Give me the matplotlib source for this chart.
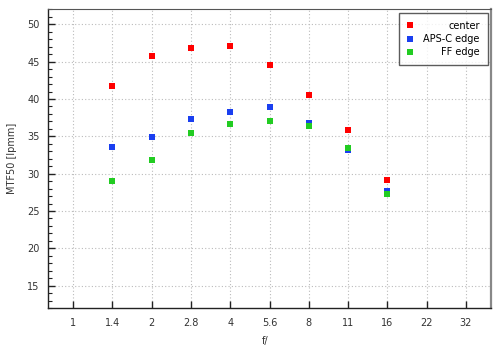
import matplotlib

matplotlib.use("Agg")
import matplotlib.pyplot as plt
from matplotlib.ticker import MultipleLocator

# f-stops shown on the axis (evenly spaced, one per stop)
STOPS = ["1", "1.4", "2", "2.8", "4", "5.6", "8", "11", "16", "22", "32"]
MEASURED = ["1.4", "2", "2.8", "4", "5.6", "8", "11", "16"]

center = [41.7, 45.8, 46.8, 47.1, 44.5, 40.6, 35.8, 29.2]
apsc_edge = [33.6, 34.9, 37.3, 38.2, 38.9, 36.8, 33.2, 27.7]
ff_edge = [29.0, 31.8, 35.4, 36.7, 37.1, 36.4, 33.4, 27.3]

xpos = [STOPS.index(s) for s in MEASURED]

fig = plt.figure(figsize=(5.0, 3.51), dpi=100)
ax = fig.add_axes([0.096, 0.1225, 0.886, 0.8505])

ms = 5.0
ax.plot(xpos, center, "s", color="#ff0000", ms=ms, mew=0, label="center")
ax.plot(xpos, apsc_edge, "s", color="#1a3ff0", ms=ms, mew=0, label="APS-C edge")
ax.plot(xpos, ff_edge, "s", color="#22cc22", ms=ms, mew=0, label="FF edge")

ax.set_xlim(-0.64, 10.64)
ax.set_ylim(12, 52)
ax.set_xticks(range(len(STOPS)))
ax.set_xticklabels(STOPS)
ax.yaxis.set_major_locator(MultipleLocator(5))
ax.yaxis.set_minor_locator(MultipleLocator(1))
ax.set_yticks(range(15, 51, 5))

ax.grid(True, which="major", color="#bbbbbb", linestyle=(0, (1, 2)), linewidth=0.8)
ax.tick_params(axis="both", which="major", direction="in", length=5, width=1,
               labelsize=7, labelcolor="#333333", color="#222222")
ax.tick_params(axis="y", which="minor", direction="in", length=3, width=0.8, color="#222222")
ax.tick_params(axis="x", pad=7)
ax.tick_params(axis="y", pad=6)

for side in ("left", "bottom"):
    ax.spines[side].set_color("#222222")
    ax.spines[side].set_linewidth(1.0)
ax.spines["top"].set_color("#555555")
ax.spines["right"].set_color("#888888")
ax.spines["right"].set_linewidth(1.6)

ax.set_xlabel("f/", fontsize=7, color="#333333", x=0.49, labelpad=6)
ax.set_ylabel("MTF50 [lpmm]", fontsize=7, color="#333333", labelpad=7)

leg = ax.legend(loc="upper right", fontsize=7, frameon=True, fancybox=False,
                edgecolor="#333333", handlelength=0.6, handletextpad=1.1,
                borderpad=0.8, borderaxespad=0.35, labelspacing=0.35, markerscale=0.8)
leg.get_frame().set_linewidth(1.0)

# right-align the legend labels like the original
fig.canvas.draw()
texts = leg.get_texts()
widths = [t.get_window_extent().width for t in texts]
for t, w in zip(texts, widths):
    t.set_position((max(widths) - w, 0))

fig.savefig("out.png", dpi=100)
